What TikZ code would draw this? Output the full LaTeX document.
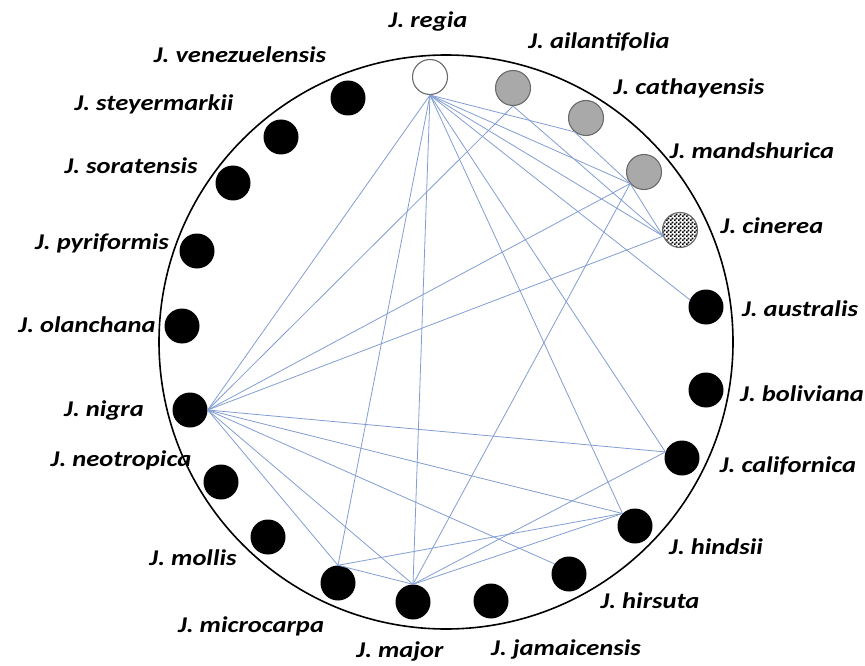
\documentclass[tikz,border=0pt]{standalone}
\usepackage{fontspec}
\setmainfont{Carlito}[FakeStretch=1.18]
\usetikzlibrary{patterns}
\definecolor{linkblue}{HTML}{819DD3}
\definecolor{nutgray}{HTML}{A9A9A9}
\definecolor{rimgray}{HTML}{6A6A6A}
\pgfdeclarepatternformonly{finecheck}{\pgfpointorigin}{\pgfqpoint{3.6pt}{3.6pt}}{\pgfqpoint{3.6pt}{3.6pt}}{%
  \pgfpathrectangle{\pgfpointorigin}{\pgfqpoint{1.8pt}{1.8pt}}%
  \pgfpathrectangle{\pgfqpoint{1.8pt}{1.8pt}}{\pgfqpoint{1.8pt}{1.8pt}}%
  \pgfusepath{fill}}

\begin{document}
\begin{tikzpicture}[x=1pt,y=-1pt,
          nut/.style={circle,minimum size=35pt,inner sep=0pt},
          blacknut/.style={nut,fill=black},
          graynut/.style={nut,draw=rimgray,line width=1.1pt,fill=nutgray},
          whitenut/.style={nut,draw=rimgray,line width=1.1pt,fill=white},
          checknut/.style={nut,draw=rimgray,line width=1.1pt,pattern=finecheck},
          lbl/.style={font=\fontsize{22.5}{26}\selectfont\bfseries\itshape},
          link/.style={draw=linkblue,line width=0.8pt}
        ]
        \useasboundingbox (0,0) rectangle (865,666);
        \draw[line width=1.6pt] (446,342) circle (287);
        % species
        \node[whitenut] (regia) at (430,77) {};
        \node[graynut] (ailantifolia) at (513,88) {};
        \node[graynut] (cathayensis) at (586,118) {};
        \node[graynut] (mandshurica) at (644,172) {};
        \node[checknut] (cinerea) at (680,230) {};
        \node[blacknut] (australis) at (706,307) {};
        \node[blacknut] (boliviana) at (706,390) {};
        \node[blacknut] (californica) at (682,458) {};
        \node[blacknut] (hindsii) at (635,526) {};
        \node[blacknut] (hirsuta) at (569,574) {};
        \node[blacknut] (jamaicensis) at (491,601) {};
        \node[blacknut] (major) at (413,602) {};
        \node[blacknut] (microcarpa) at (338,583) {};
        \node[blacknut] (mollis) at (268,537) {};
        \node[blacknut] (neotropica) at (221,482) {};
        \node[blacknut] (nigra) at (190,410) {};
        \node[blacknut] (olanchana) at (182,326) {};
        \node[blacknut] (pyriformis) at (197,251) {};
        \node[blacknut] (soratensis) at (233,183) {};
        \node[blacknut] (steyermarkii) at (281,137) {};
        \node[blacknut] (venezuelensis) at (348,98) {};
        % labels
        \node[lbl] (lregia) at (428,22) {J. regia};
        \node[lbl] (lailantifolia) at (599,42) {J. ailantifolia};
        \node[lbl] (lcathayensis) at (689,88) {J. cathayensis};
        \node[lbl] (lmandshurica) at (752,151) {J. mandshurica};
        \node[lbl] (lcinerea) at (772,226) {J. cinerea};
        \node[lbl] (laustralis) at (800,309) {J. australis};
        \node[lbl] (lboliviana) at (802,394) {J. boliviana};
        \node[lbl] (lcalifornica) at (788,466) {J. californica};
        \node[lbl] (lhindsii) at (716,547) {J. hindsii};
        \node[lbl] (lhirsuta) at (650,601) {J. hirsuta};
        \node[lbl] (ljamaicensis) at (566,650) {J. jamaicensis};
        \node[lbl] (lmajor) at (400,652) {J. major};
        \node[lbl] (lmicrocarpa) at (251,626) {J. microcarpa};
        \node[lbl] (lmollis) at (193,558) {J. mollis};
        \node[lbl] (lneotropica) at (121,460) {J. neotropica};
        \node[lbl] (lnigra) at (104,410) {J. nigra};
        \node[lbl] (lolanchana) at (87,325) {J. olanchana};
        \node[lbl] (lpyriformis) at (102,243) {J. pyriformis};
        \node[lbl] (lsoratensis) at (131,166) {J. soratensis};
        \node[lbl] (lsteyermarkii) at (154,104) {J. steyermarkii};
        \node[lbl] (lvenezuelensis) at (240,55) {J. venezuelensis};
        % crosses
        \foreach \a/\b in {regia.south/nigra.east, regia.south/microcarpa.north,
            regia.south/major.north, regia.south/hindsii.135, regia.south/californica.160,
            regia.south/australis.156, regia.south/cinerea.200, regia.south/mandshurica.220,
            regia.south/cathayensis.230, ailantifolia.south/nigra.east,
            ailantifolia.south/cinerea.200, cathayensis.230/mandshurica.220,
            mandshurica.220/cinerea.200, mandshurica.220/nigra.east,
            mandshurica.220/major.north, cinerea.200/nigra.east,
            nigra.east/californica.160, nigra.east/hindsii.135, nigra.east/hirsuta.145,
            nigra.east/major.north, nigra.east/microcarpa.north,
            microcarpa.north/major.north, microcarpa.north/hindsii.135,
            major.north/hindsii.135, major.north/californica.160}
          \draw[link] (\a) -- (\b);
      \end{tikzpicture}
\end{document}
